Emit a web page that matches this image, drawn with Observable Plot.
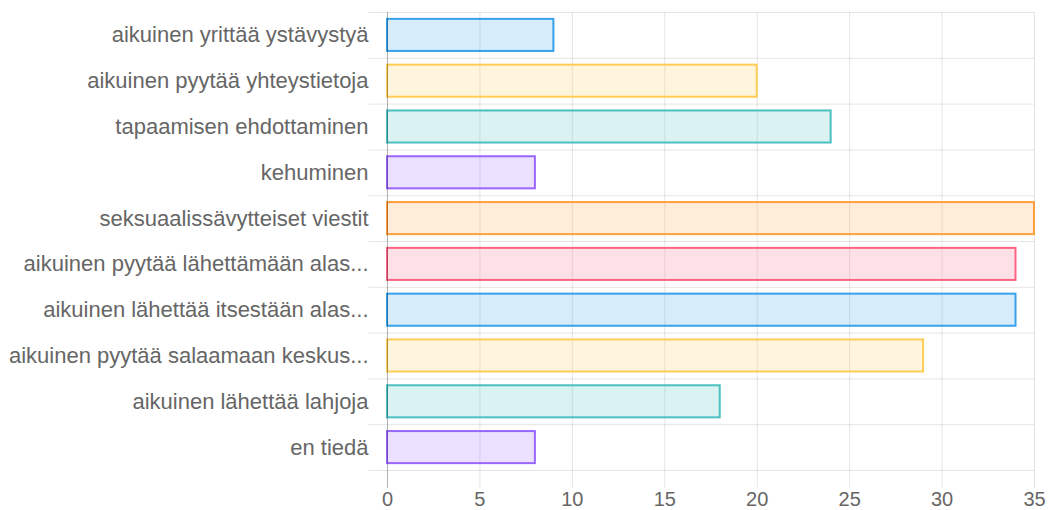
<!DOCTYPE html>
<html>
<head>
<meta charset="utf-8">
<script src="https://cdn.jsdelivr.net/npm/d3@7"></script>
<script src="https://cdn.jsdelivr.net/npm/@observablehq/plot@0.6"></script>
<style>
  html, body { margin: 0; padding: 0; background: #fff; }
  #chart svg { display: block; }
</style>
</head>
<body>
<div id="chart"></div>
<script>
const categories = [
  "aikuinen yrittää ystävystyä",
  "aikuinen pyytää yhteystietoja",
  "tapaamisen ehdottaminen",
  "kehuminen",
  "seksuaalissävytteiset viestit",
  "aikuinen pyytää lähettämään alas...",
  "aikuinen lähettää itsestään alas...",
  "aikuinen pyytää salaamaan keskus...",
  "aikuinen lähettää lahjoja",
  "en tiedä"
];
const values = [9, 20, 24, 8, 35, 34, 34, 29, 18, 8];
const borderColors = ["#36a2eb", "#ffcd56", "#4bc0c0", "#9966ff", "#ff9f40", "#ff6384", "#36a2eb", "#ffcd56", "#4bc0c0", "#9966ff"];
const xTicks = [0, 5, 10, 15, 20, 25, 30, 35];

const rows = categories.map((c, i) => ({i, c, v: values[i], col: borderColors[i]}));
const n = categories.length;
const boundaries = d3.range(n + 1).map(k => k - 0.5);

const fillOf = hex => { const c = d3.color(hex); c.opacity = 0.2; return c.formatRgb(); };

const chart = Plot.plot({
  width: 1049,
  height: 510,
  marginLeft: 387,
  marginRight: 15,
  marginTop: 12,
  marginBottom: 40,
  style: {fontFamily: "'Liberation Sans', Arial, sans-serif", fontSize: "22px", color: "#666", background: "#fff"},
  x: {domain: [0, 35]},
  y: {domain: [n - 0.5, -0.5]},
  marks: [
    Plot.ruleY(boundaries, {y: d => d, x1: -1, x2: 35, stroke: "#000", strokeOpacity: 0.1, strokeWidth: 1}),
    Plot.ruleX(xTicks.filter(t => t > 0), {x: d => d, y1: -0.5, y2: n - 0.5 + 0.39, stroke: "#000", strokeOpacity: 0.1, strokeWidth: 1}),
    Plot.rect(rows, {x1: 0, x2: "v", y1: d => d.i - 0.35, y2: d => d.i + 0.35, fill: d => fillOf(d.col), stroke: "col", strokeWidth: 2}),
    Plot.ruleX([0], {y1: -0.5, y2: n - 0.5 + 0.39, stroke: "#000", strokeOpacity: 0.3, strokeWidth: 1}),
    Plot.axisX({ticks: xTicks, tickSize: 0, tickPadding: 21, fontSize: 20, label: null, fill: "#666"}),
    Plot.axisY({ticks: d3.range(n), tickFormat: i => categories[i], tickSize: 0, tickPadding: 19, fontSize: 22, label: null, fill: "#666"})
  ]
});
document.getElementById("chart").appendChild(chart);
</script>
</body>
</html>
